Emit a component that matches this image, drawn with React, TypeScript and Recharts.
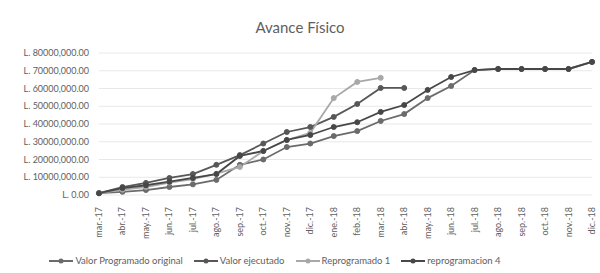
import React from 'react';
import { LineChart, Line, XAxis, YAxis, CartesianGrid, Legend } from 'recharts';

const meses = [
  'mar.-17', 'abr.-17', 'may.-17', 'jun.-17', 'jul.-17', 'ago.-17', 'sep.-17', 'oct.-17',
  'nov.-17', 'dic.-17', 'ene.-18', 'feb.-18', 'mar.-18', 'abr.-18', 'may.-18', 'jun.-18',
  'jul.-18', 'ago.-18', 'sep.-18', 'oct.-18', 'nov.-18', 'dic.-18',
];

// millones de lempiras
const programadoOriginal = [
  1.0, 1.8, 2.8, 4.5, 6.0, 8.5, 17.0, 20.0, 27.0, 29.0, 33.2,
  36.0, 41.7, 45.6, 54.6, 61.4, 70.4, 71.0, 71.0, 71.0, 71.0, 75.0,
];
const valorEjecutado = [
  1.0, 4.5, 6.8, 9.6, 11.8, 17.0, 22.5, 29.0, 35.5, 38.3, 44.0,
  51.3, 60.3, 60.3, null, null, null, null, null, null, null, null,
];
const reprogramado1 = [
  1.0, 3.0, 4.5, 7.0, 9.0, 12.0, 15.8, 24.8, 31.0, 35.0, 54.6,
  63.7, 66.0, null, null, null, null, null, null, null, null, null,
];
const reprogramacion4 = [
  1.0, 3.9, 5.5, 7.5, 9.6, 11.8, 22.0, 24.8, 31.0, 33.8, 38.3,
  41.0, 46.8, 50.7, 59.2, 66.5, 70.4, 71.0, 71.0, 71.0, 71.0, 75.0,
];

const yTicks = [0, 10, 20, 30, 40, 50, 60, 70, 80];

const M = 1000000;
const toVal = (v: number | null) => (v == null ? null : v * M);

const data = meses.map((mes, i) => ({
  mes,
  original: toVal(programadoOriginal[i]),
  ejecutado: toVal(valorEjecutado[i]),
  reprog1: toVal(reprogramado1[i]),
  reprog4: toVal(reprogramacion4[i]),
}));

const series = [
  { key: 'original', name: 'Valor Programado original', color: '#6b6b6b' },
  { key: 'ejecutado', name: 'Valor ejecutado', color: '#575757' },
  { key: 'reprog1', name: 'Reprogramado 1', color: '#a8a8a8' },
  { key: 'reprog4', name: 'reprogramacion 4', color: '#474747' },
];

const font = 'Lato, "Open Sans", sans-serif';
const textColor = '#606060';

function fmtLempiras(v: number) {
  if (v === 0) return 'L. 0.00';
  const miles = Math.floor(v / 1000);
  const resto = String(v % 1000).padStart(3, '0');
  return `L. ${miles},${resto}.00`;
}

function MontoTick(props: any) {
  const { x, y, payload } = props;
  return (
    <text x={x - 2} y={y} dy={3} textAnchor="end" fontSize={9} fill={textColor} fontFamily={font}>
      {fmtLempiras(payload.value)}
    </text>
  );
}

function MesTick(props: any) {
  const { x, y, payload } = props;
  return (
    <g transform={`translate(${x},${y + 4})`}>
      <text
        transform="rotate(-90)"
        textAnchor="end"
        dy={3}
        fontSize={9}
        fill={textColor}
        fontFamily={font}
      >
        {payload.value}
      </text>
    </g>
  );
}

function LeyendaMarcadores() {
  return (
    <div
      style={{
        display: 'flex',
        justifyContent: 'center',
        gap: 11,
        fontFamily: font,
        fontSize: 9.5,
        color: textColor,
        marginLeft: -50,
        marginTop: 5,
      }}
    >
      {series.map((s) => (
        <div key={s.key} style={{ display: 'flex', alignItems: 'center' }}>
          <svg width={24} height={8} style={{ marginRight: 2 }}>
            <line x1={0} y1={4} x2={24} y2={4} stroke={s.color} strokeWidth={2} />
            <circle cx={12} cy={4} r={2.5} fill={s.color} />
          </svg>
          <span>{s.name}</span>
        </div>
      ))}
    </div>
  );
}

export default function App() {
  return (
    <div style={{ position: 'absolute', left: 0, top: 0, width: 600, height: 273, background: '#fff' }}>
      <div
        style={{
          position: 'absolute',
          top: 18,
          width: 600,
          textAlign: 'center',
          fontFamily: font,
          fontSize: 15,
          color: textColor,
        }}
      >
        Avance Físico
      </div>
      <LineChart
        width={600}
        height={273}
        data={data}
        margin={{ top: 53, right: 8, bottom: 0, left: 8 }}
      >
        <CartesianGrid vertical={false} stroke="#e8e8e8" />
        <XAxis
          dataKey="mes"
          interval={0}
          height={55}
          tick={<MesTick />}
          axisLine={false}
          tickLine={false}
        />
        <YAxis
          width={91}
          domain={[0, 80 * M]}
          ticks={yTicks.map((t) => t * M)}
          interval={0}
          axisLine={false}
          tickLine={false}
          tick={<MontoTick />}
        />
        <Legend verticalAlign="bottom" height={23} content={<LeyendaMarcadores />} />
        {series.map((s) => (
          <Line
            key={s.key}
            type="linear"
            dataKey={s.key}
            name={s.name}
            stroke={s.color}
            strokeWidth={1.8}
            dot={{ r: 2.5, fill: s.color, stroke: s.color, strokeWidth: 1 }}
            isAnimationActive={false}
          />
        ))}
      </LineChart>
    </div>
  );
}
